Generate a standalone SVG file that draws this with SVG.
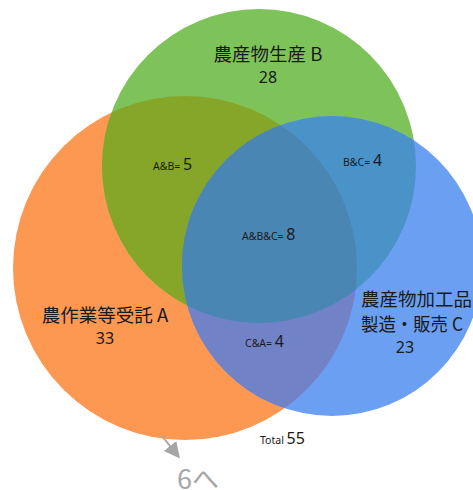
<svg xmlns="http://www.w3.org/2000/svg" width="473" height="490" viewBox="0 0 473 490">
<style>
.jp{font-family:"Noto Sans CJK JP","Noto Sans",sans-serif;font-size:18.5px;fill:#1a1a1a}
.num{font-family:"Noto Sans","Noto Sans CJK JP",sans-serif;font-size:16px;fill:#1a1a1a}
.sm{font-family:"Noto Sans",sans-serif;font-size:10.5px;fill:#1a1a1a}
.big{font-family:"Noto Sans",sans-serif;font-size:16px}
</style>
<defs>
<clipPath id="clipA"><circle cx="185" cy="268" r="172"/></clipPath>
<clipPath id="clipB"><circle cx="259" cy="166" r="157"/></clipPath>
<marker id="arr" viewBox="0 0 10 10" refX="8" refY="5" markerWidth="8" markerHeight="8" orient="auto" markerUnits="strokeWidth"><path d="M0,0 L10,5 L0,10 z" fill="#a6a6a6"/></marker>
</defs>
<rect width="473" height="490" fill="#ffffff"/>
<g id="node-A"><circle cx="185" cy="268" r="172" fill="#fc9852"/></g>
<g id="node-B"><circle cx="259" cy="166" r="157" fill="#7ec35a"/></g>
<g id="node-C"><circle cx="332" cy="266" r="150" fill="#6b9ff1"/></g>
<g id="overlaps">
<circle cx="259" cy="166" r="157" fill="#86a62a" clip-path="url(#clipA)"/>
<circle cx="332" cy="266" r="150" fill="#4a93c8" clip-path="url(#clipB)"/>
<circle cx="332" cy="266" r="150" fill="#7282c6" clip-path="url(#clipA)"/>
<g clip-path="url(#clipA)"><circle cx="332" cy="266" r="150" fill="#4a86b4" clip-path="url(#clipB)"/></g>
</g>
<g id="labels">
<text class="jp" x="268" y="61" text-anchor="middle">農産物生産 B</text>
<text class="num" x="268" y="83" text-anchor="middle">28</text>
<text class="jp" x="105" y="322" text-anchor="middle">農作業等受託 A</text>
<text class="num" x="105" y="344" text-anchor="middle">33</text>
<text class="jp" x="361" y="306">農産物加工品</text>
<text class="jp" x="361" y="331" textLength="102" lengthAdjust="spacingAndGlyphs">製造・販売 C</text>
<text class="num" x="405" y="353" text-anchor="middle">23</text>
<text x="153" y="170"><tspan class="sm">A&amp;B= </tspan><tspan class="big" fill="#1a1a1a">5</tspan></text>
<text x="343" y="166"><tspan class="sm">B&amp;C= </tspan><tspan class="big" fill="#1a1a1a">4</tspan></text>
<text x="242" y="240"><tspan class="sm">A&amp;B&amp;C= </tspan><tspan class="big" fill="#1a1a1a">8</tspan></text>
<text x="245" y="347"><tspan class="sm">C&amp;A= </tspan><tspan class="big" fill="#1a1a1a">4</tspan></text>
<text x="260" y="444"><tspan class="sm">Total </tspan><tspan class="big" fill="#1a1a1a" font-size="15">55</tspan></text>
</g>
<g id="connectors">
<line x1="162" y1="436" x2="178" y2="456" stroke="#a6a6a6" stroke-width="2" marker-end="url(#arr)"/>
</g>
<text x="177" y="489" font-family="Noto Sans CJK JP,Noto Sans,sans-serif" font-size="27" fill="#a6a6a6">6へ</text>
</svg>
